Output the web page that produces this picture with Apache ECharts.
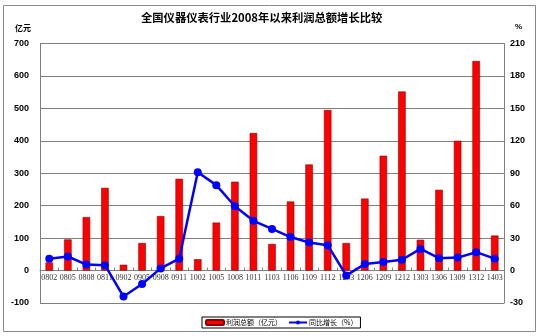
<!DOCTYPE html>
<html>
<head>
<meta charset="utf-8">
<script src="https://cdn.jsdelivr.net/npm/echarts@6/dist/echarts.min.js"></script>
<style>
  html, body { margin: 0; padding: 0; background: #fff; }
  #chart { width: 550px; height: 336px; }
</style>
</head>
<body>
<div id="chart"></div>
<script>
// Period labels (yymm)
const periods = ['0802','0805','0808','0811','0902','0905','0908','0911','1002','1005','1008','1011',
  '1103','1106','1109','1112','1203','1206','1209','1212','1303','1306','1309','1312','1403'];

// Total profit, 100 million yuan
const profit = [25, 96, 165, 255, 18, 85, 168, 283, 35, 148, 274, 424,
  82, 213, 327, 495, 85, 222, 354, 552, 95, 249, 400, 646, 108];

// Year-on-year growth, %
const growth = [11, 13, 5.5, 5, -24, -12.5, 2, 11, 91, 79, 59.5, 46,
  38.5, 31, 26, 23.5, -4.5, 6, 8, 10, 20, 11.5, 12, 17, 11];

// Value axis ticks
const leftTicks = { min: -100, max: 700, step: 100 };
const rightTicks = { min: -30, max: 210, step: 30 };

const gridTop = 43.5, gridBottom = 33, chartHeight = 336;
const plotHeight = chartHeight - gridTop - gridBottom;
// Lift the category axis from the bottom edge up to the zero line of the left axis
const zeroLift = -plotHeight * (0 - leftTicks.min) / (leftTicks.max - leftTicks.min);

const chart = echarts.init(document.getElementById('chart'), null, { renderer: 'canvas' });

const axisFont = { fontFamily: 'Liberation Sans, Arial, sans-serif', fontSize: 9, fontWeight: 'bold', color: '#000' };
const cjk = 'Noto Sans CJK SC, sans-serif';

chart.setOption({
  animation: false,
  backgroundColor: '#fff',
  graphic: [
    { type: 'rect', shape: { x: 3.5, y: 5.5, width: 532, height: 326 },
      style: { fill: 'none', stroke: '#8a8a8a', lineWidth: 1 }, z: -1 },
    { type: 'text', x: 141, y: 12,
      style: { text: '全国仪器仪表行业2008年以来利润总额增长比较', font: 'bold 11.3px ' + cjk, fill: '#000' } },
    { type: 'text', x: 15, y: 24,
      style: { text: '亿元', font: 'bold 8px ' + cjk, fill: '#000' } },
    { type: 'text', x: 515, y: 23,
      style: { text: '%', font: 'bold 8px Liberation Sans, sans-serif', fill: '#000' } }
  ],
  grid: { left: 40, right: 46, top: gridTop, bottom: gridBottom, containLabel: false },
  legend: {
    left: 202, top: 317,
    itemWidth: 18, itemHeight: 5, itemGap: 6,
    padding: [2, 3, 2, 3],
    borderColor: '#000', borderWidth: 1, borderRadius: 0,
    textStyle: { fontFamily: cjk, fontSize: 7, color: '#000', padding: [0, 0, 0, -3] },
    data: ['利润总额（亿元）', '同比增长（%）']
  },
  xAxis: {
    type: 'category',
    data: periods,
    boundaryGap: true,
    position: 'bottom',
    offset: zeroLift,
    axisLine: { onZero: false, lineStyle: { color: '#808080', width: 1 } },
    axisTick: { show: true, inside: true, length: 3, alignWithLabel: false, lineStyle: { color: '#808080' } },
    axisLabel: { interval: 0, margin: 3, fontFamily: 'Liberation Serif, serif', fontSize: 8, color: '#333' },
    splitLine: { show: false }
  },
  yAxis: [
    {
      type: 'value',
      min: leftTicks.min, max: leftTicks.max, interval: leftTicks.step,
      axisLine: { show: true, lineStyle: { color: '#808080' } },
      axisTick: { show: false },
      axisLabel: Object.assign({ margin: 11 }, axisFont),
      splitLine: { show: true, lineStyle: { color: '#808080', width: 1 } }
    },
    {
      type: 'value',
      min: rightTicks.min, max: rightTicks.max, interval: rightTicks.step,
      position: 'right',
      axisLine: { show: true, lineStyle: { color: '#808080' } },
      axisTick: { show: false },
      axisLabel: Object.assign({ margin: 6 }, axisFont),
      splitLine: { show: false }
    }
  ],
  series: [
    {
      name: '利润总额（亿元）',
      type: 'bar',
      yAxisIndex: 0,
      data: profit,
      barWidth: 7.5,
      itemStyle: { color: '#ff0000', borderColor: '#8b0000', borderWidth: 0.6 }
    },
    {
      name: '同比增长（%）',
      type: 'line',
      yAxisIndex: 1,
      data: growth,
      symbol: 'circle',
      symbolSize: 8,
      lineStyle: { color: '#0000ff', width: 2.5 },
      itemStyle: { color: '#0000ff' },
      z: 3
    }
  ]
});
</script>
</body>
</html>
